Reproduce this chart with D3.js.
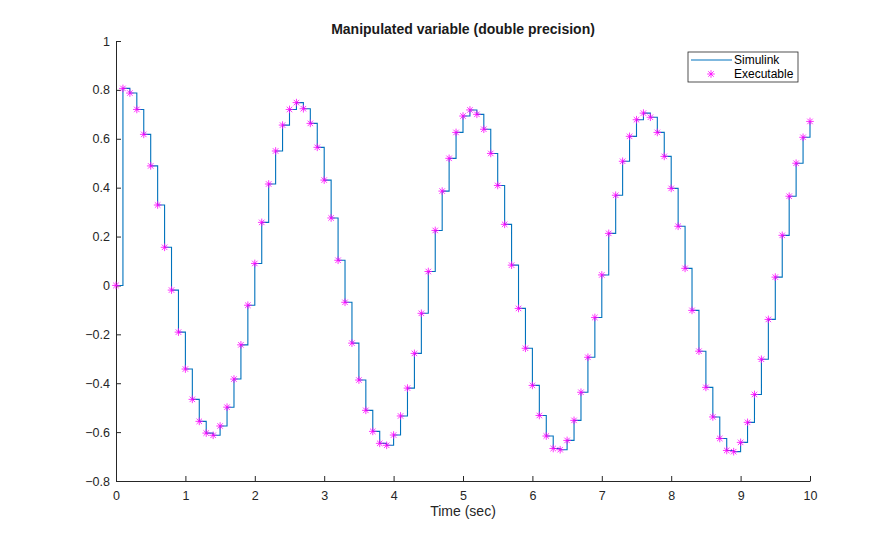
<!DOCTYPE html>
<html>
<head>
<meta charset="utf-8">
<script src="https://cdn.jsdelivr.net/npm/d3@7"></script>
<style>
  body { margin: 0; background: #fff; }
  svg { font-family: "Liberation Sans", Arial, Helvetica, sans-serif; }
</style>
</head>
<body>
<script>
const width = 895;
const height = 540;

// sample times 0, 0.1, ..., 10
const times = d3.range(0, 101).map(i => i / 10);

// manipulated variable (one value per sample)
const values = [
  0.000, 0.806, 0.787, 0.720, 0.618, 0.489, 0.329, 0.156, -0.019, -0.191,
  -0.342, -0.466, -0.556, -0.604, -0.613, -0.575, -0.498, -0.383, -0.243, -0.081,
  0.090, 0.258, 0.415, 0.550, 0.656, 0.720, 0.748, 0.723, 0.663, 0.565,
  0.431, 0.276, 0.103, -0.069, -0.236, -0.387, -0.511, -0.597, -0.646, -0.654,
  -0.612, -0.534, -0.420, -0.278, -0.114, 0.057, 0.225, 0.386, 0.520, 0.626,
  0.693, 0.718, 0.700, 0.639, 0.540, 0.409, 0.250, 0.083, -0.094, -0.257,
  -0.409, -0.532, -0.616, -0.667, -0.672, -0.634, -0.552, -0.437, -0.294, -0.131,
  0.043, 0.213, 0.369, 0.508, 0.610, 0.678, 0.705, 0.688, 0.626, 0.528,
  0.397, 0.242, 0.070, -0.102, -0.269, -0.417, -0.538, -0.626, -0.675, -0.680,
  -0.642, -0.560, -0.446, -0.302, -0.139, 0.034, 0.205, 0.365, 0.500, 0.606,
  0.671
];

const xTicks = d3.range(0, 11);
const yTicks = [-0.8, -0.6, -0.4, -0.2, 0, 0.2, 0.4, 0.6, 0.8, 1];
const seriesNames = ["Simulink", "Executable"];

const data = times.map((t, i) => ({ t, v: values[i] }));

const margin = { top: 41, right: 85, bottom: 59, left: 116 };

const x = d3.scaleLinear().domain([0, 10]).range([margin.left, width - margin.right]);
const y = d3.scaleLinear().domain([-0.8, 1]).range([height - margin.bottom, margin.top]);

const svg = d3.select("body")
  .append("svg")
  .attr("width", width)
  .attr("height", height);

// axes, ticks pointing inward like MATLAB
const axisColor = "#262626";

const xAxis = svg.append("g")
  .attr("transform", `translate(0,${height - margin.bottom})`)
  .call(d3.axisBottom(x).tickValues(xTicks).tickSizeInner(-5).tickSizeOuter(0).tickPadding(10).tickFormat(d3.format("d")));

const yAxis = svg.append("g")
  .attr("transform", `translate(${margin.left},0)`)
  .call(d3.axisLeft(y).tickValues(yTicks).tickSizeInner(-5).tickSizeOuter(0).tickPadding(6).tickFormat(d => d === 0 ? "0" : d3.format("")(+d.toFixed(1))));

[xAxis, yAxis].forEach(a => {
  a.select(".domain").attr("stroke", axisColor).attr("stroke-width", 1);
  a.selectAll(".tick line").attr("stroke", axisColor);
  a.selectAll(".tick text").attr("fill", axisColor).attr("font-size", 12.5).attr("font-family", null);
});

// stair line (previous value held until next sample)
const stairs = d3.line()
  .curve(d3.curveStepAfter)
  .x(d => x(d.t))
  .y(d => y(d.v));

svg.append("path")
  .datum(data)
  .attr("fill", "none")
  .attr("stroke", "#0072BD")
  .attr("stroke-width", 1.1)
  .attr("d", stairs);

// asterisk markers
const r = 3.8;
const d2 = r * 0.72;
const asterisk = `M${-r},0L${r},0M0,${-r}L0,${r}M${-d2},${-d2}L${d2},${d2}M${-d2},${d2}L${d2},${-d2}`;

svg.append("g")
  .attr("stroke", "#ff00ff")
  .attr("stroke-width", 0.8)
  .attr("fill", "none")
  .selectAll("path")
  .data(data)
  .join("path")
  .attr("transform", d => `translate(${x(d.t)},${y(d.v)})`)
  .attr("d", asterisk);

// title and x label
svg.append("text")
  .attr("x", (x(0) + x(10)) / 2)
  .attr("y", 34)
  .attr("text-anchor", "middle")
  .attr("font-size", 14)
  .attr("font-weight", "bold")
  .attr("fill", "#1a1a1a")
  .text("Manipulated variable (double precision)");

svg.append("text")
  .attr("x", (x(0) + x(10)) / 2)
  .attr("y", 516)
  .attr("text-anchor", "middle")
  .attr("font-size", 14)
  .attr("fill", axisColor)
  .text("Time (sec)");

// legend
const legend = svg.append("g").attr("transform", "translate(688,52)");
legend.append("rect")
  .attr("width", 110)
  .attr("height", 30)
  .attr("fill", "#fff")
  .attr("stroke", axisColor)
  .attr("stroke-width", 0.8);

legend.append("line")
  .attr("x1", 3).attr("x2", 44).attr("y1", 8).attr("y2", 8)
  .attr("stroke", "#0072BD").attr("stroke-width", 1.1);

legend.append("path")
  .attr("transform", "translate(23,22)")
  .attr("d", asterisk)
  .attr("stroke", "#ff00ff")
  .attr("stroke-width", 0.8);

legend.selectAll("text")
  .data(seriesNames)
  .join("text")
  .attr("x", 46)
  .attr("y", (d, i) => 12 + i * 14)
  .attr("font-size", 12)
  .attr("fill", "#000")
  .text(d => d);
</script>
</body>
</html>
